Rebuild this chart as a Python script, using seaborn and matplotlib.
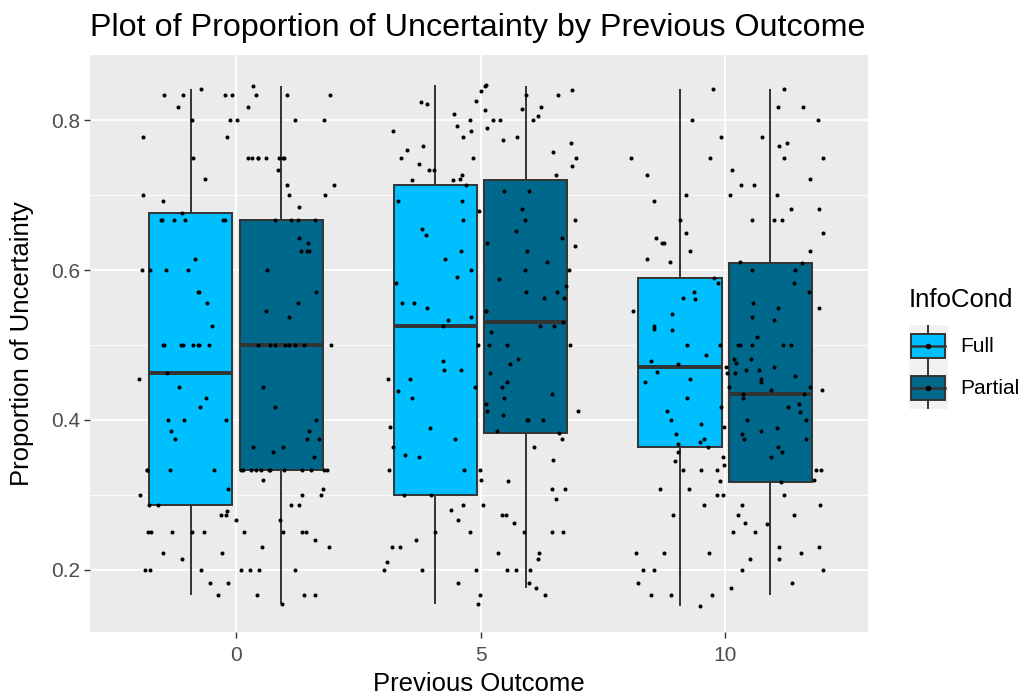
import numpy as np
import pandas as pd
import matplotlib
matplotlib.use("Agg")
import matplotlib.pyplot as plt
from matplotlib.legend_handler import HandlerBase
from matplotlib.patches import Rectangle
from matplotlib.lines import Line2D
import seaborn as sns

# ---------------- data ----------------
outcomes = [0, 5, 10]
conditions = ["Full", "Partial"]

full_0 = [0.167, 0.167, 0.182, 0.2, 0.2, 0.2, 0.214, 0.222, 0.231, 0.24, 0.25, 0.25, 0.25, 0.25, 0.25,
          0.267, 0.273, 0.273, 0.278, 0.286, 0.286,
          0.3, 0.308, 0.32, 0.333, 0.333, 0.333, 0.333, 0.333, 0.333, 0.333, 0.35, 0.364, 0.375, 0.385,
          0.4, 0.4, 0.417, 0.429, 0.444, 0.462,
          0.5, 0.5, 0.5, 0.5, 0.5, 0.5, 0.5, 0.5, 0.526, 0.545, 0.556, 0.571, 0.6, 0.6, 0.615, 0.625,
          0.625, 0.643, 0.667, 0.676,
          0.684, 0.7, 0.7, 0.714, 0.722, 0.733, 0.75, 0.75, 0.75, 0.75, 0.75, 0.778, 0.8, 0.8, 0.8,
          0.818, 0.833, 0.833, 0.833, 0.841]
partial_0 = [0.154, 0.167, 0.167, 0.182, 0.2, 0.2, 0.2, 0.2, 0.222, 0.231, 0.25, 0.25, 0.25, 0.25,
             0.267, 0.286, 0.286, 0.3, 0.3, 0.308, 0.333,
             0.333, 0.333, 0.333, 0.333, 0.333, 0.333, 0.333, 0.333, 0.357, 0.364, 0.375, 0.375, 0.385,
             0.4, 0.4, 0.417, 0.444, 0.455, 0.5, 0.5,
             0.5, 0.5, 0.5, 0.5, 0.5, 0.5, 0.538, 0.556, 0.571, 0.571, 0.6, 0.6, 0.6, 0.625, 0.636,
             0.667, 0.667, 0.667, 0.667, 0.667,
             0.667, 0.667, 0.667, 0.667, 0.692, 0.7, 0.714, 0.75, 0.75, 0.75, 0.75, 0.778, 0.8, 0.8,
             0.818, 0.833, 0.833, 0.833, 0.833, 0.846]
full_5 = [0.154, 0.167, 0.167, 0.182, 0.2, 0.2, 0.2, 0.2, 0.214, 0.222, 0.231, 0.24, 0.25, 0.25, 0.25,
          0.267, 0.273, 0.28, 0.286, 0.294, 0.3,
          0.308, 0.318, 0.333, 0.333, 0.35, 0.364, 0.375, 0.389, 0.4, 0.4, 0.412, 0.429, 0.438, 0.444,
          0.455, 0.467, 0.478, 0.5, 0.5, 0.525,
          0.526, 0.533, 0.545, 0.556, 0.563, 0.571, 0.583, 0.591, 0.6, 0.611, 0.625, 0.636, 0.647,
          0.655, 0.667, 0.667, 0.682, 0.692, 0.706, 0.714,
          0.72, 0.727, 0.733, 0.739, 0.75, 0.75, 0.76, 0.769, 0.778, 0.786, 0.79, 0.8, 0.8, 0.806,
          0.813, 0.818, 0.824, 0.833, 0.84, 0.847]
partial_5 = [0.176, 0.182, 0.2, 0.2, 0.211, 0.222, 0.231, 0.25, 0.25, 0.263, 0.273, 0.286, 0.3, 0.308,
             0.32, 0.333, 0.346, 0.353, 0.364, 0.375, 0.382,
             0.385, 0.391, 0.4, 0.407, 0.412, 0.421, 0.429, 0.435, 0.444, 0.45, 0.455, 0.462, 0.467,
             0.474, 0.481, 0.5, 0.5, 0.517, 0.526, 0.531,
             0.538, 0.545, 0.55, 0.556, 0.563, 0.571, 0.579, 0.588, 0.6, 0.6, 0.615, 0.625, 0.632,
             0.643, 0.652, 0.667, 0.679, 0.692, 0.706, 0.72,
             0.722, 0.727, 0.733, 0.741, 0.75, 0.757, 0.765, 0.773, 0.778, 0.786, 0.792, 0.8, 0.8,
             0.808, 0.815, 0.821, 0.826, 0.833, 0.839, 0.845]
full_10 = [0.152, 0.167, 0.182, 0.2, 0.2, 0.214, 0.222, 0.231, 0.25, 0.261, 0.273, 0.286, 0.3, 0.308,
           0.318, 0.333, 0.333, 0.34, 0.35, 0.357, 0.364,
           0.368, 0.375, 0.381, 0.389, 0.4, 0.4, 0.412, 0.417, 0.421, 0.429, 0.435, 0.44, 0.444, 0.45,
           0.455, 0.458, 0.462, 0.464, 0.467, 0.471,
           0.474, 0.478, 0.481, 0.486, 0.5, 0.5, 0.5, 0.5, 0.511, 0.52, 0.526, 0.533, 0.542, 0.545,
           0.55, 0.556, 0.563, 0.571, 0.583, 0.59,
           0.6, 0.611, 0.625, 0.636, 0.65, 0.667, 0.667, 0.682, 0.7, 0.7, 0.714, 0.722, 0.733, 0.75,
           0.75, 0.769, 0.778, 0.8, 0.818, 0.841]
partial_10 = [0.167, 0.167, 0.176, 0.182, 0.2, 0.2, 0.214, 0.222, 0.222, 0.222, 0.231, 0.25, 0.263,
              0.273, 0.273, 0.286, 0.286, 0.3, 0.3, 0.308, 0.317,
              0.32, 0.333, 0.333, 0.333, 0.345, 0.35, 0.357, 0.364, 0.37, 0.375, 0.375, 0.381, 0.385,
              0.39, 0.395, 0.4, 0.41, 0.417, 0.429, 0.435,
              0.44, 0.444, 0.45, 0.455, 0.462, 0.467, 0.471, 0.476, 0.481, 0.5, 0.5, 0.5, 0.522,
              0.538, 0.55, 0.562, 0.571, 0.583, 0.6, 0.609,
              0.611, 0.615, 0.625, 0.636, 0.643, 0.65, 0.667, 0.667, 0.682, 0.692, 0.7, 0.714, 0.727,
              0.75, 0.75, 0.765, 0.778, 0.8, 0.818, 0.842]

y_ticks = [0.2, 0.4, 0.6, 0.8]
x_ticks = [0, 5, 10]

title = "Plot of Proportion of Uncertainty by Previous Outcome"
x_label = "Previous Outcome"
y_label = "Proportion of Uncertainty"
legend_title = "InfoCond"

palette = {"Full": "#00BFFF", "Partial": "#00688B"}

groups = {(0, "Full"): full_0, (0, "Partial"): partial_0,
          (5, "Full"): full_5, (5, "Partial"): partial_5,
          (10, "Full"): full_10, (10, "Partial"): partial_10}
rows = []
for (o, c), vals in groups.items():
    for v in vals:
        rows.append({"PrevOutcome": o, "InfoCond": c, "Prop": v})
df = pd.DataFrame(rows)

# ---------------- figure ----------------
plt.rcParams["font.family"] = ["Liberation Sans", "DejaVu Sans"]
fig = plt.figure(figsize=(10.30, 6.98), dpi=100)
ax = fig.add_axes([90 / 1030, 1 - 632 / 698, (868 - 90) / 1030, (632 - 55) / 698])
ax.set_facecolor("#EBEBEB")

edge = "#333333"
sns.boxplot(data=df, x="PrevOutcome", y="Prop", hue="InfoCond", hue_order=conditions,
            native_scale=True, width=0.74, gap=0.08, palette=palette, saturation=1,
            linecolor=edge, linewidth=1.4, showfliers=False, showcaps=False,
            medianprops={"linewidth": 2.8, "color": edge},
            legend=False, ax=ax, zorder=2)
sns.stripplot(data=df, x="PrevOutcome", y="Prop", native_scale=True, jitter=0.4,
              color="black", size=2.9, linewidth=0, legend=False, ax=ax, zorder=3)

ax.set_xlim(-2.986, 12.92)
ax.set_ylim(0.1173, 0.8867)
ax.set_xticks(x_ticks)
ax.set_xticklabels([str(t) for t in x_ticks])
ax.set_yticks(y_ticks)
ax.set_yticklabels([f"{t:.1f}" for t in y_ticks])
ax.set_yticks([0.3, 0.5, 0.7], minor=True)
ax.grid(which="major", color="white", linewidth=1.3, zorder=0)
ax.grid(which="minor", axis="y", color="white", linewidth=0.6, zorder=0)
ax.set_axisbelow(True)
for s in ax.spines.values():
    s.set_visible(False)
ax.tick_params(axis="both", which="major", length=4, width=1, color=edge,
               labelcolor="#4D4D4D", labelsize=15, pad=3)
ax.tick_params(axis="x", which="major", pad=6)
ax.tick_params(axis="both", which="minor", length=0)

ax.set_xlabel(x_label, fontsize=18.5, color="black", labelpad=5)
ax.set_ylabel(y_label, fontsize=18.5, color="black", labelpad=12)
ax.set_title(title, fontsize=23.25, loc="left", x=0.0, pad=14)


# ---------------- ggplot-like legend ----------------
class BoxKey(HandlerBase):
    def __init__(self, color):
        super().__init__()
        self.color = color

    def create_artists(self, legend, orig_handle, xdescent, ydescent, width, height, fontsize, trans):
        x0, y0 = -xdescent, -ydescent
        bg = Rectangle((x0, y0), width, height, facecolor="#F2F2F2", edgecolor="none", transform=trans)
        bx = Rectangle((x0 + 0.06 * width, y0 + 0.22 * height), 0.88 * width, 0.56 * height,
                       facecolor=self.color, edgecolor=edge, linewidth=1.4, transform=trans)
        cx = x0 + width / 2
        med = Line2D([x0 + 0.06 * width, x0 + 0.94 * width], [y0 + height / 2] * 2,
                     color=edge, linewidth=1.8, transform=trans)
        w1 = Line2D([cx, cx], [y0 + 0.78 * height, y0 + 0.97 * height], color=edge, linewidth=1.4,
                    transform=trans)
        w2 = Line2D([cx, cx], [y0 + 0.03 * height, y0 + 0.22 * height], color=edge, linewidth=1.4,
                    transform=trans)
        dot = Line2D([cx], [y0 + height / 2], marker="o", markersize=3, color="black",
                     linestyle="none", transform=trans)
        return [bg, bx, med, w1, w2, dot]


handles = [Rectangle((0, 0), 1, 1), Rectangle((0, 0), 1, 1)]
leg = fig.legend(handles, conditions, title=legend_title,
                 handler_map={handles[0]: BoxKey(palette["Full"]), handles[1]: BoxKey(palette["Partial"])},
                 loc="upper left", bbox_to_anchor=(909 / 1030, 1 - 288 / 698),
                 frameon=False, fontsize=15, title_fontsize=18.5,
                 handlelength=1.85, handleheight=2.75, labelspacing=0.0, handletextpad=0.6,
                 borderpad=0, borderaxespad=0, alignment="left")
leg._legend_box.sep = 9

fig.savefig("out.png", dpi=100)
